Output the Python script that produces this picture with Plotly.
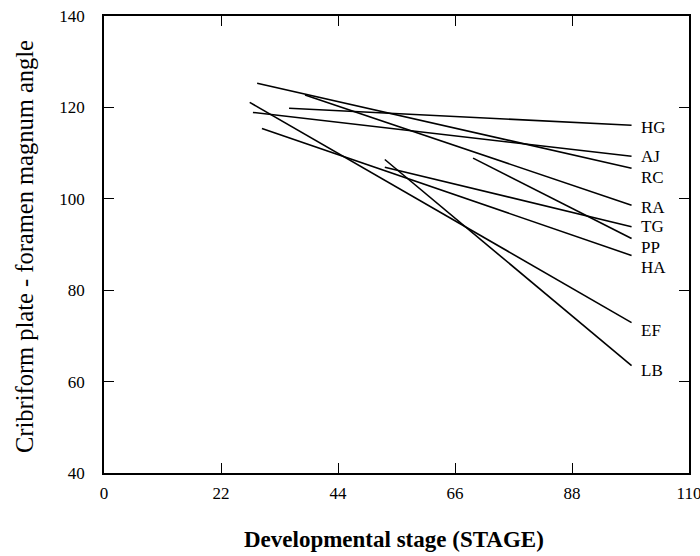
import plotly.graph_objects as go

labels = ["HG", "AJ", "RC", "RA", "TG", "PP", "HA", "EF", "LB"]
x_start = [34.8, 28.0, 28.8, 37.8, 52.8, 69.4, 29.7, 27.4, 52.8]
y_start = [119.8, 118.9, 125.3, 122.7, 106.9, 108.9, 115.4, 121.1, 108.6]
x_end = [99.2, 99.2, 99.2, 99.2, 99.2, 99.2, 99.2, 99.2, 99.2]
y_end = [116.1, 109.3, 106.7, 98.6, 93.9, 91.3, 87.6, 72.9, 63.5]
label_y = [115.7, 109.2, 104.6, 98.0, 94.0, 89.4, 84.9, 71.1, 62.5]

x_ticks = [0, 22, 44, 66, 88, 110]
y_ticks = [40, 60, 80, 100, 120, 140]

FONT = "Liberation Serif"

fig = go.Figure()
for i, lab in enumerate(labels):
    fig.add_trace(go.Scatter(
        x=[x_start[i], x_end[i]], y=[y_start[i], y_end[i]],
        mode="lines", line=dict(color="black", width=1.6),
        name=lab, showlegend=False, hoverinfo="name"))
    fig.add_annotation(x=100.6, y=label_y[i], text=lab, showarrow=False,
                       xanchor="left", yanchor="middle",
                       font=dict(family=FONT, size=17, color="black"))

axis_common = dict(showgrid=False, zeroline=False, showline=True,
                   linecolor="black", linewidth=1.5, mirror="ticks",
                   ticks="inside", ticklen=10, tickwidth=1.2, tickcolor="black",
                   automargin=False, ticklabeloverflow="allow",
                   tickfont=dict(family=FONT, size=17, color="black"))

fig.update_xaxes(range=[0, 110], tickvals=x_ticks, ticktext=[str(v) for v in x_ticks],
                 ticklabelstandoff=4, **axis_common)
fig.update_yaxes(range=[40, 140], tickvals=y_ticks, ticktext=[str(v) for v in y_ticks],
                 ticklabelstandoff=14, **axis_common)

# plot area in pixels: left 104, right 689, top 16, bottom 473
fig.add_annotation(xref="paper", yref="paper", x=(25 - 104) / 585, y=(473 - 247) / 457,
                   text="Cribriform plate - foramen magnum angle", textangle=-90,
                   showarrow=False, xanchor="center", yanchor="middle",
                   font=dict(family=FONT, size=24.5, color="black"))
fig.add_annotation(xref="paper", yref="paper", x=(394 - 104) / 585, y=-(539 - 473) / 457,
                   text="<b>Developmental stage (STAGE)</b>",
                   showarrow=False, xanchor="center", yanchor="middle",
                   font=dict(family=FONT, size=23, color="black"))

fig.update_layout(width=700, height=556,
                  margin=dict(l=104, r=11, t=16, b=83),
                  plot_bgcolor="white", paper_bgcolor="white")

fig.write_html("out.html", config={"displayModeBar": False},
               post_script="document.body.style.margin='0';document.body.style.overflow='hidden';")
